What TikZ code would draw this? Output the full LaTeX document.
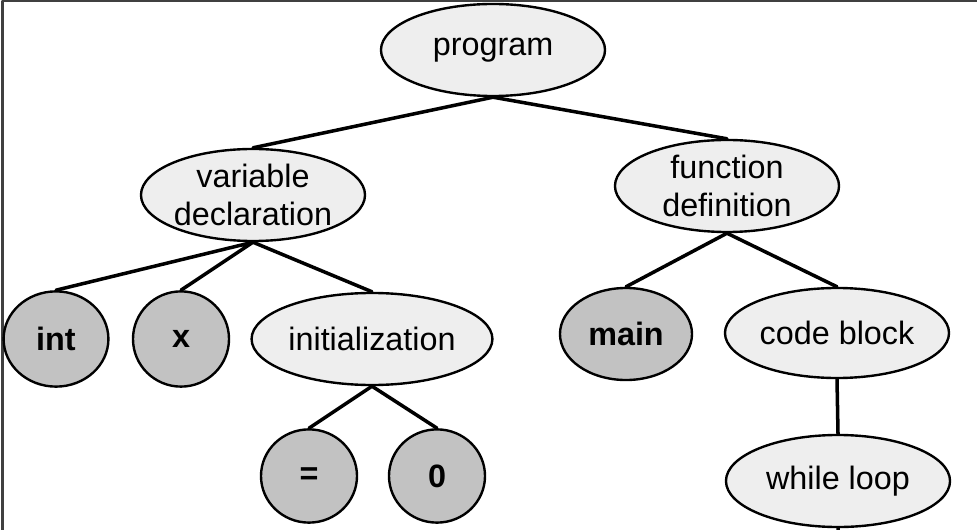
\documentclass[tikz,border=0pt]{standalone}
\usepackage{fontspec}
\setmainfont{Liberation Sans}
\usetikzlibrary{shapes.geometric}
\definecolor{inner}{HTML}{EEEEEE}
\definecolor{leaf}{HTML}{C2C2C2}
\begin{document}
\begin{tikzpicture}[x=0.025cm, y=-0.025cm, font=\fontsize{23}{27}\selectfont, line join=round, line cap=round,
	inner/.style={ellipse, draw, line width=1.7pt, fill=inner, inner sep=0pt, minimum width=5.6cm, minimum height=2.3cm, align=center},
	leaf/.style={ellipse, draw, line width=1.7pt, fill=leaf, inner sep=0pt, minimum width=2.4cm, minimum height=2.33cm, font=\fontsize{23}{27}\selectfont\bfseries},
	edge/.style={line width=2.5pt}]
	\useasboundingbox (0,0) rectangle (977,530);
	\draw[line width=1.6pt, black!75] (2.5,530)--(2.5,1)--(977,1);
	% upper levels
	\node[inner] (prog) at (493,50) {program};
	\node[inner] (vdecl) at (253,195) {variable\\declaration};
	\node[inner] (fdef) at (727,186) {function\\definition};
	% children of the declaration
	\node[leaf, minimum width=2.62cm, minimum height=2.38cm] (int) at (56,339) {int};
	\node[leaf, minimum height=2.38cm] (x) at (181,339) {\raisebox{-2pt}{x}};
	\node[inner, minimum width=6.02cm] (init) at (372,339) {initialization};
	\node[leaf] (eq) at (309,476) {=};
	\node[leaf] (zero) at (437,476) {0};
	% children of the function
	\node[leaf, minimum width=3.3cm, minimum height=2.3cm] (main) at (626,334) {main};
	\node[inner, minimum height=2.25cm] (block) at (837,333) {code block};
	\node[inner] (loop) at (838,481) {while loop};
	\coordinate (below) at (838,535);
	\draw[edge] (prog.south)--(vdecl.north) (prog.south)--(fdef.north);
	\draw[edge] (vdecl.south)--(int.north) (vdecl.south)--(x.north) (vdecl.south)--(init.north);
	\draw[edge] (init.south)--(eq.north) (init.south)--(zero.north);
	\draw[edge] (fdef.south)--(main.north) (fdef.south)--(block.north);
	\draw[edge] (block.south)--(loop.north) (loop.south)--(below);
\end{tikzpicture}
\end{document}
